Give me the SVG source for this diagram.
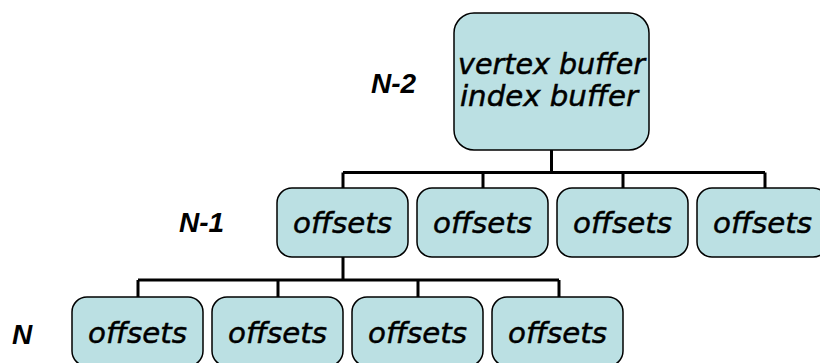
<svg xmlns="http://www.w3.org/2000/svg" width="820" height="363" viewBox="0 0 820 363">
<style>
.box{fill:#BBE0E3;stroke:#000;stroke-width:1.5}
.t{font-family:"DejaVu Sans",sans-serif;font-style:italic;font-size:28px;fill:#000;stroke:#000;stroke-width:0.5;text-anchor:middle}
.lbl{font-family:"Liberation Sans",Arial,sans-serif;font-style:italic;font-weight:bold;font-size:28px;fill:#000}
.c{fill:none;stroke:#000;stroke-width:3}
</style>
<rect width="820" height="363" fill="#fff"/>
<g id="connectors">
<path class="c" d="M551.5 150V172.5M343 172.5H765M343 172.5V188M483 172.5V188M623 172.5V188M765 172.5V188"/>
<path class="c" d="M343 257V280M138 280H559M138 280V297M278 280V297M418 280V297M559 280V297"/>
</g>
<g id="label-n2"><text class="lbl" x="371" y="93">N-2</text></g>
<g id="label-n1"><text class="lbl" x="179" y="232">N-1</text></g>
<g id="label-n"><text class="lbl" x="12" y="344">N</text></g>
<g id="root">
<rect class="box" x="454" y="13" width="195" height="137" rx="20"/>
<text class="t" x="551.5" y="74" textLength="187" lengthAdjust="spacingAndGlyphs">vertex buffer</text>
<text class="t" x="549" y="106" textLength="178" lengthAdjust="spacingAndGlyphs">index buffer</text>
</g>
<g id="l1-1"><rect class="box" x="277" y="188" width="131" height="69" rx="15"/><text class="t" x="342.5" y="233" textLength="99" lengthAdjust="spacingAndGlyphs">offsets</text></g>
<g id="l1-2"><rect class="box" x="417" y="188" width="131" height="69" rx="15"/><text class="t" x="482.5" y="233" textLength="99" lengthAdjust="spacingAndGlyphs">offsets</text></g>
<g id="l1-3"><rect class="box" x="557" y="188" width="131" height="69" rx="15"/><text class="t" x="622.5" y="233" textLength="99" lengthAdjust="spacingAndGlyphs">offsets</text></g>
<g id="l1-4"><rect class="box" x="697" y="188" width="131" height="69" rx="15"/><text class="t" x="762.5" y="233" textLength="99" lengthAdjust="spacingAndGlyphs">offsets</text></g>
<g id="l2-1"><rect class="box" x="72" y="297" width="131" height="69" rx="15"/><text class="t" x="137.5" y="343" textLength="99" lengthAdjust="spacingAndGlyphs">offsets</text></g>
<g id="l2-2"><rect class="box" x="212" y="297" width="131" height="69" rx="15"/><text class="t" x="277.5" y="343" textLength="99" lengthAdjust="spacingAndGlyphs">offsets</text></g>
<g id="l2-3"><rect class="box" x="352" y="297" width="131" height="69" rx="15"/><text class="t" x="417.5" y="343" textLength="99" lengthAdjust="spacingAndGlyphs">offsets</text></g>
<g id="l2-4"><rect class="box" x="492" y="297" width="131" height="69" rx="15"/><text class="t" x="557.5" y="343" textLength="99" lengthAdjust="spacingAndGlyphs">offsets</text></g>
</svg>
